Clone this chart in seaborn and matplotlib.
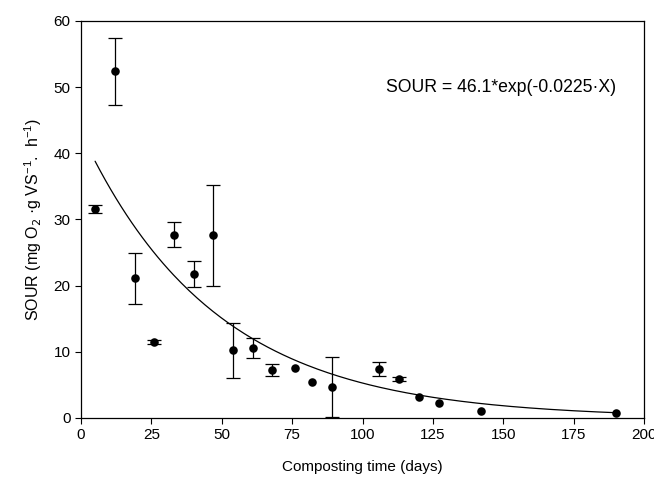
import numpy as np
import pandas as pd
import matplotlib
matplotlib.use('Agg')
import matplotlib.pyplot as plt
import seaborn as sns

# --- 데이터 ---
days = [5, 12, 19, 26, 33, 40, 47, 54, 61, 68, 76, 82, 89, 106, 113, 120, 127, 142, 190]
sour = [31.6, 52.4, 21.1, 11.5, 27.7, 21.8, 27.6, 10.2, 10.6, 7.3, 7.5, 5.4, 4.7, 7.4, 5.9, 3.2, 2.2, 1.1, 0.7]
sour_err = [0.6, 5.1, 3.8, 0.3, 1.85, 2.0, 7.6, 4.1, 1.5, 0.9, 0, 0, 4.5, 1.1, 0.3, 0, 0, 0, 0]

# 곡선 (그림에 그려진 지수 감쇠)
FIT_A = 43.1
FIT_K = 0.021
fit_x = np.linspace(5, 190, 200)

EQ_TEXT = 'SOUR = 46.1*exp(-0.0225·X)'

sns.set_style('ticks')
plt.rcParams['font.family'] = ['Liberation Sans', 'DejaVu Sans']
plt.rcParams['mathtext.fontset'] = 'custom'
plt.rcParams['mathtext.rm'] = 'Liberation Sans'
plt.rcParams['mathtext.it'] = 'Liberation Sans'
plt.rcParams['text.color'] = 'black'
plt.rcParams['axes.labelcolor'] = 'black'
plt.rcParams['xtick.color'] = 'black'
plt.rcParams['ytick.color'] = 'black'
plt.rcParams['axes.edgecolor'] = 'black'

df = pd.DataFrame({'days': days, 'sour': sour, 'err': sour_err})
fit_df = pd.DataFrame({'days': fit_x, 'sour': FIT_A * np.exp(-FIT_K * fit_x)})

fig = plt.figure(figsize=(6.54, 4.8), dpi=100)
ax = fig.add_axes([0.1239, 0.1292, 0.8608, 0.8271])

sns.lineplot(data=fit_df, x='days', y='sour', color='black', lw=0.9, ax=ax)
has_err = df[df['err'] > 0]
ax.errorbar(has_err['days'], has_err['sour'], yerr=has_err['err'], fmt='none',
            ecolor='black', elinewidth=0.9, capsize=5, capthick=0.9)
sns.scatterplot(data=df, x='days', y='sour', color='black', s=38,
                edgecolor='black', linewidth=0, ax=ax, zorder=3)

ax.set_xlim(0, 200)
ax.set_ylim(0, 60)
ax.set_xticks(range(0, 201, 25))
ax.set_yticks(range(0, 61, 10))
ax.tick_params(direction='out', length=4, width=0.8, labelsize=11,
               top=False, right=False)
for s in ax.spines.values():
    s.set_visible(True)
    s.set_linewidth(0.9)

ax.set_xlabel('Composting time (days)', fontsize=11, labelpad=13)
ax.set_ylabel(r'SOUR (mg O$_{\mathsf{2}}$ ·g VS$^{-1}$.  h$^{-1}$)', fontsize=11.5, labelpad=7)

ax.text(108.5, 50, EQ_TEXT, fontsize=12.7, ha='left', va='center')

fig.savefig('out.png', dpi=100)
